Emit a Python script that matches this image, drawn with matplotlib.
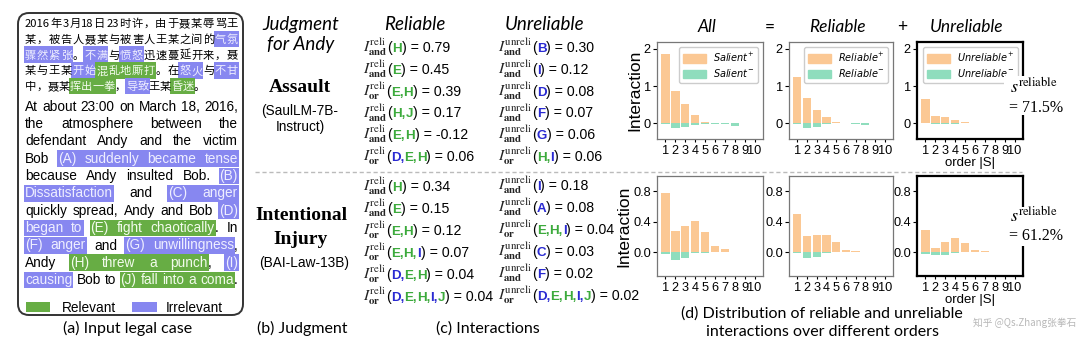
import matplotlib
matplotlib.use("Agg")
import matplotlib.pyplot as plt
from matplotlib.patches import Rectangle, FancyBboxPatch, Patch

# ------------------------------------------------------------------ data
orders = list(range(1, 11))

assault_all_pos = [1.86, 0.87, 0.51, 0.23, 0.035, 0.01, 0.006, 0.004, 0.003, 0.002]
assault_all_neg = [-0.005, -0.12, -0.11, -0.035, -0.005, -0.005, -0.03, -0.07, -0.004, -0.002]
assault_reli_pos = [1.24, 0.69, 0.35, 0.16, 0.03, 0.008, 0.005, 0.004, 0.002, 0.001]
assault_reli_neg = [-0.005, -0.12, -0.09, -0.01, -0.004, -0.004, -0.03, -0.05, -0.003, -0.001]
assault_unreli_pos = [0.65, 0.20, 0.17, 0.10, 0.03, 0.006, 0.003, 0.002, 0.001, 0.001]
assault_unreli_neg = [-0.002, -0.01, -0.02, -0.01, -0.002, -0.001, -0.002, -0.003, -0.001, -0.001]

injury_all_pos = [0.78, 0.28, 0.35, 0.41, 0.26, 0.08, 0.04, 0.006, 0.003, 0.002]
injury_all_neg = [-0.02, -0.10, -0.08, -0.005, -0.003, -0.002, -0.001, -0.001, -0.001, -0.001]
injury_reli_pos = [0.50, 0.21, 0.23, 0.23, 0.13, 0.03, 0.015, 0.004, 0.002, 0.001]
injury_reli_neg = [-0.005, -0.08, -0.06, -0.003, -0.002, -0.001, -0.001, -0.001, -0.001, -0.001]
injury_unreli_pos = [0.29, 0.06, 0.13, 0.19, 0.12, 0.035, 0.02, 0.003, 0.002, 0.001]
injury_unreli_neg = [-0.02, -0.04, -0.03, -0.003, -0.002, -0.001, -0.001, -0.001, -0.001, -0.001]

reliable_ratio = ["71.5%", "61.2%"]

# (operator, players, value)
assault_reliable = [("and", "H", 0.79), ("and", "E", 0.45), ("or", "E,H", 0.39),
                    ("and", "H,J", 0.17), ("and", "E,H", -0.12), ("or", "D,E,H", 0.06)]
assault_unreliable = [("and", "B", 0.30), ("and", "I", 0.12), ("and", "D", 0.08),
                      ("and", "F", 0.07), ("and", "G", 0.06), ("or", "H,I", 0.06)]
injury_reliable = [("and", "H", 0.34), ("and", "E", 0.15), ("or", "E,H", 0.12),
                   ("or", "E,H,I", 0.07), ("or", "D,E,H", 0.04), ("or", "D,E,H,I,J", 0.04)]
injury_unreliable = [("and", "I", 0.18), ("and", "A", 0.08), ("or", "E,H,I", 0.04),
                     ("and", "C", 0.03), ("and", "F", 0.02), ("or", "D,E,H,I,J", 0.02)]
relevant_players = set("EHJ")

# legal case text: (segment, highlight[, glued to previous])
case_zh = [
    [("2016年3月18日23时许，由于聂某辱骂王", "n")],
    [("某，被告人聂某与被害人王某之间的", "n"), ("气氛", "b")],
    [("骤然紧张", "b"), ("。", "n"), ("不满", "b"), ("与", "n"), ("愤怒", "b"),
     ("迅速蔓延开来，聂", "n")],
    [("某与王某", "n"), ("开始", "b"), ("混乱地厮打", "g"), ("。在", "n"), ("怒火", "b"),
     ("与", "n"), ("不甘", "b")],
    [("中，聂某", "n"), ("挥出一拳", "g"), ("，", "n"), ("导致", "b"), ("王某", "n"),
     ("昏迷", "g"), ("。", "n")],
]
case_en = [
    [("At about 23:00 on March 18, 2016,", "n")],
    [("the atmosphere between the", "n")],
    [("defendant Andy and the victim", "n")],
    [("Bob", "n"), ("(A) suddenly became tense", "b")],
    [("because Andy insulted Bob.", "n"), ("(B)", "b")],
    [("Dissatisfaction", "b"), ("and", "n"), ("(C) anger", "b")],
    [("quickly spread, Andy and Bob", "n"), ("(D)", "b")],
    [("began to", "b"), ("(E) fight chaotically", "g"), (".", "n", True), ("In", "n")],
    [("(F) anger", "b"), ("and", "n"), ("(G) unwillingness", "b"), (",", "n", True)],
    [("Andy", "n"), ("(H) threw a punch", "g"), (",", "n", True), ("(I)", "b")],
    [("causing", "b"), ("Bob to", "n"), ("(J) fall into a coma", "g"), (".", "n", True)],
]

# ------------------------------------------------------------------ style
W, H = 1080, 345
SANS = "Liberation Sans"
SERIF = "Liberation Serif"
HUMAN = "Lato"
CJK = ["Noto Sans CJK SC", "DejaVu Sans"]
HL = {"b": "#8787f0", "g": "#67ad44"}
HL_TXT = {"n": "black", "b": "#eeeeff", "g": "#f2fbec"}
P_GREEN = "#3caa3c"
P_BLUE = "#2a2ad2"
ORANGE = "#fbc894"
GREEN = "#8fddbd"

fig = plt.figure(figsize=(W / 100, H / 100), dpi=100)
bg = fig.add_axes([0, 0, 1, 1])
bg.set_xlim(0, W)
bg.set_ylim(H, 0)
bg.axis("off")
renderer = fig.canvas.get_renderer()


def text_width(s, **kw):
    t = bg.text(0, 0, s, **kw)
    w = t.get_window_extent(renderer).width
    t.remove()
    return w


def layout_line(segments, yc, x0, x1, fontsize, family, justify, cjk, base_off):
    tokens = []
    for seg in segments:
        text, style = seg[0], seg[1]
        glue = seg[2] if len(seg) > 2 else False
        if cjk:
            parts, buf = [], ""
            for ch in text:
                if ord(ch) < 128:
                    buf += ch
                else:
                    if buf:
                        parts.append(buf)
                        buf = ""
                    parts.append(ch)
            if buf:
                parts.append(buf)
        else:
            parts = text.split(" ")
        for i, p in enumerate(parts):
            tokens.append((p, style, glue if i == 0 else False))
    kw = dict(fontsize=fontsize, family=family)
    widths = [text_width(t[0], **kw) for t in tokens]
    ngaps = sum(1 for t in tokens[1:] if not t[2])
    natural = 0.0 if cjk else text_width("a b", **kw) - text_width("ab", **kw)
    gap = (x1 - x0 - sum(widths)) / ngaps if (justify and ngaps) else natural
    xs, x = [], x0
    for i, (tok, w) in enumerate(zip(tokens, widths)):
        if i > 0 and not tok[2]:
            x += gap
        xs.append(x)
        x += w
    # highlight runs
    i = 0
    while i < len(tokens):
        st = tokens[i][1]
        if st == "n":
            i += 1
            continue
        j = i
        while j + 1 < len(tokens) and tokens[j + 1][1] == st:
            j += 1
        bg.add_patch(Rectangle((xs[i] - 1, yc - 8.3), xs[j] + widths[j] - xs[i] + 2, 16.6,
                               facecolor=HL[st], edgecolor="none", zorder=1))
        i = j + 1
    for (tok, st, _), xx in zip(tokens, xs):
        bg.text(xx, yc + base_off, tok, va="baseline", ha="left",
                color=HL_TXT[st], zorder=2, **kw)


# ------------------------------------------------------------------ (a) legal case
bg.add_patch(FancyBboxPatch((18, 13), 225, 302,
                            boxstyle="round,pad=0,rounding_size=11",
                            facecolor="white", edgecolor="#333333", lw=1.4, zorder=0))
TX0, TX1 = 25, 238
for k, line in enumerate(case_zh):
    layout_line(line, 23 + 15.8 * k, TX0, TX1, 8.1, CJK, k < 4, True, 4.0)
for k, line in enumerate(case_en):
    layout_line(line, 106.5 + 17.35 * k, TX0, TX1, 9.8, SANS, True, False, 4.2)

bg.add_patch(Rectangle((26, 302), 24, 10, facecolor=HL["g"], edgecolor="none"))
bg.text(62, 307, "Relevant", fontsize=9.8, family=SANS, va="center_baseline")
bg.add_patch(Rectangle((132, 302), 25, 10, facecolor=HL["b"], edgecolor="none"))
bg.text(166, 307, "Irrelevant", fontsize=9.8, family=SANS, va="center_baseline")
bg.text(128, 327, "(a) Input legal case", fontsize=11.5, family=HUMAN,
        ha="center", va="center_baseline")

# ------------------------------------------------------------------ (b) judgment
bg.text(301, 23, "Judgment", fontsize=13.5, family=HUMAN, style="italic",
        ha="center", va="center_baseline")
bg.text(301, 43, "for Andy", fontsize=13.5, family=HUMAN, style="italic",
        ha="center", va="center_baseline")
bg.text(300, 86, "Assault", fontsize=14, family=SERIF, weight="bold",
        ha="center", va="center_baseline")
bg.text(300, 109, "(SaulLM-7B-", fontsize=9.8, family=SANS, ha="center", va="center_baseline")
bg.text(300, 126, "Instruct)", fontsize=9.8, family=SANS, ha="center", va="center_baseline")
bg.text(301, 213, "Intentional", fontsize=14, family=SERIF, weight="bold",
        ha="center", va="center_baseline")
bg.text(301, 238, "Injury", fontsize=14, family=SERIF, weight="bold",
        ha="center", va="center_baseline")
bg.text(304, 262, "(BAI-Law-13B)", fontsize=9.8, family=SANS, ha="center", va="center_baseline")
bg.text(302, 327, "(b) Judgment", fontsize=11.5, family=HUMAN, ha="center", va="center_baseline")

# ------------------------------------------------------------------ (c) interactions
bg.text(415, 23, "Reliable", fontsize=13.5, family=HUMAN, style="italic",
        ha="center", va="center_baseline")
bg.text(545, 23, "Unreliable", fontsize=13.5, family=HUMAN, style="italic",
        ha="center", va="center_baseline")


def draw_formula(x, yc, kind, op, players, value):
    y = yc + 4.0
    pieces = [(rf"$I^{{\mathrm{{{kind}}}}}_{{\mathbf{{{op}}}}}$",
               dict(fontsize=11.2, math_fontfamily="stix", color="#222222")),
              ("(", dict(fontsize=10.2, family=SANS, color="black"))]
    names = players.split(",")
    for i, p in enumerate(names):
        col = P_GREEN if p in relevant_players else P_BLUE
        s = p + ("," if i < len(names) - 1 else "")
        pieces.append((s, dict(fontsize=9.6, family=SANS, weight="bold", color=col)))
    pieces.append((f") = {value:.2f}", dict(fontsize=10.2, family=SANS, color="black")))
    for s, kw in pieces:
        t = bg.text(x, y, s, va="baseline", ha="left", **kw)
        x += t.get_window_extent(renderer).width


for k, (op, pl, v) in enumerate(assault_reliable):
    draw_formula(363, 48 + 21.8 * k, "reli", op, pl, v)
for k, (op, pl, v) in enumerate(assault_unreliable):
    draw_formula(498, 48 + 21.8 * k, "unreli", op, pl, v)
for k, (op, pl, v) in enumerate(injury_reliable):
    draw_formula(363, 187 + 22 * k, "reli", op, pl, v)
for k, (op, pl, v) in enumerate(injury_unreliable):
    draw_formula(498, 186 + 22 * k, "unreli", op, pl, v)

bg.plot([255, 1022], [172, 172], color="#bbbbbb", lw=1.0, ls=(0, (3, 2)))
bg.text(488, 327, "(c) Interactions", fontsize=11.5, family=HUMAN,
        ha="center", va="center_baseline")

# ------------------------------------------------------------------ (d) distributions
bg.text(707, 25, "All", fontsize=12.5, family=HUMAN, style="italic", ha="center", va="center_baseline")
bg.text(770, 25, "=", fontsize=12.5, family=HUMAN, ha="center", va="center_baseline")
bg.text(837, 25, "Reliable", fontsize=12.5, family=HUMAN, style="italic", ha="center", va="center_baseline")
bg.text(902, 25, "+", fontsize=12.5, family=HUMAN, ha="center", va="center_baseline")
bg.text(967, 25, "Unreliable", fontsize=12.5, family=HUMAN, style="italic", ha="center", va="center_baseline")


def bar_panel(box, pos, neg, ylim, yticks, ylabels, strong, legend=None,
              ylabel=False, xlabel=False):
    x0, y0, x1, y1 = box
    ax = fig.add_axes([x0 / W, 1 - y1 / H, (x1 - x0) / W, (y1 - y0) / H])
    ax.bar(orders, pos, width=0.85, color=ORANGE)
    ax.bar(orders, neg, width=0.85, color=GREEN)
    ax.set_ylim(*ylim)
    ax.set_xlim(0.15, 10.85)
    ax.set_yticks(yticks)
    ax.set_yticklabels(ylabels, fontsize=9.2, family=SANS)
    ax.set_xticks(orders)
    ax.set_xticklabels([str(o) for o in orders], fontsize=9.2, family=SANS)
    ax.tick_params(axis="x", length=2, pad=2)
    ax.tick_params(axis="y", length=3, pad=1.5)
    for sp in ax.spines.values():
        sp.set_color("black" if strong else "#777777")
        sp.set_linewidth(1.6 if strong else 0.9)
    if legend:
        ax.legend([Patch(color=ORANGE), Patch(color=GREEN)],
                  [rf"$\mathit{{{legend}}}^{{+}}$", rf"$\mathit{{{legend}}}^{{-}}$"],
                  loc="upper right", fontsize=7, handlelength=2.4, handleheight=0.9,
                  borderpad=0.4, labelspacing=0.35, handletextpad=0.7,
                  edgecolor="#cccccc", fancybox=True, framealpha=1)
    if ylabel:
        ax.set_ylabel("Interaction", fontsize=12.5, family=SANS, labelpad=1)
    if xlabel:
        ax.set_xlabel("order |S|", fontsize=9.5, family=SANS, labelpad=0)
    return ax


top = (42, 139)
bot = (176, 276)
cols = [(657, 763), (789, 893), (917, 1023)]
top_lim, top_ticks, top_lbl = (-0.42, 2.18), [0, 1, 2], ["0", "1", "2"]
bot_lim, bot_ticks, bot_lbl = (-0.31, 1.0), [0, 0.4, 0.8], ["0.0", "0.4", "0.8"]

bar_panel((cols[0][0], top[0], cols[0][1], top[1]), assault_all_pos, assault_all_neg,
          top_lim, top_ticks, top_lbl, False, legend="Salient", ylabel=True)
bar_panel((cols[1][0], top[0], cols[1][1], top[1]), assault_reli_pos, assault_reli_neg,
          top_lim, top_ticks, top_lbl, False, legend="Reliable")
bar_panel((cols[2][0], top[0], cols[2][1], top[1]), assault_unreli_pos, assault_unreli_neg,
          top_lim, top_ticks, top_lbl, True, legend="Unreliable", xlabel=True)
bar_panel((cols[0][0], bot[0], cols[0][1], bot[1]), injury_all_pos, injury_all_neg,
          bot_lim, bot_ticks, bot_lbl, False, ylabel=True)
bar_panel((cols[1][0], bot[0], cols[1][1], bot[1]), injury_reli_pos, injury_reli_neg,
          bot_lim, bot_ticks, bot_lbl, False)
bar_panel((cols[2][0], bot[0], cols[2][1], bot[1]), injury_unreli_pos, injury_unreli_neg,
          bot_lim, bot_ticks, bot_lbl, True, xlabel=True)

bg.text(822, 312, "(d) Distribution of reliable and unreliable", fontsize=11.5,
        family=HUMAN, ha="center", va="center_baseline")
bg.text(822, 330, "interactions over different orders", fontsize=11.5,
        family=HUMAN, ha="center", va="center_baseline")

# overlay: reliability ratios and watermark
ov = fig.add_axes([0, 0, 1, 1], zorder=10)
ov.set_xlim(0, W)
ov.set_ylim(H, 0)
ov.axis("off")
ov.patch.set_alpha(0)
for (yb, ys, yv), ratio in zip([(76, 93, 112), (207, 222, 240)], reliable_ratio):
    ov.add_patch(Rectangle((1004, yb), 64, 39, facecolor="white", edgecolor="none"))
    ov.text(1010, ys, r"$s^{\mathrm{reliable}}$", fontsize=13, math_fontfamily="stix",
            va="baseline", ha="left")
    ov.text(1009, yv, "= " + ratio, fontsize=11.5, family=SERIF, va="baseline", ha="left")

ov.text(1076, 323, "知乎 @Qs.Zhang张拳石", fontsize=7, family=CJK, color="#9a9a9a",
        alpha=0.7, va="center", ha="right")

fig.savefig("out.png", dpi=100)
